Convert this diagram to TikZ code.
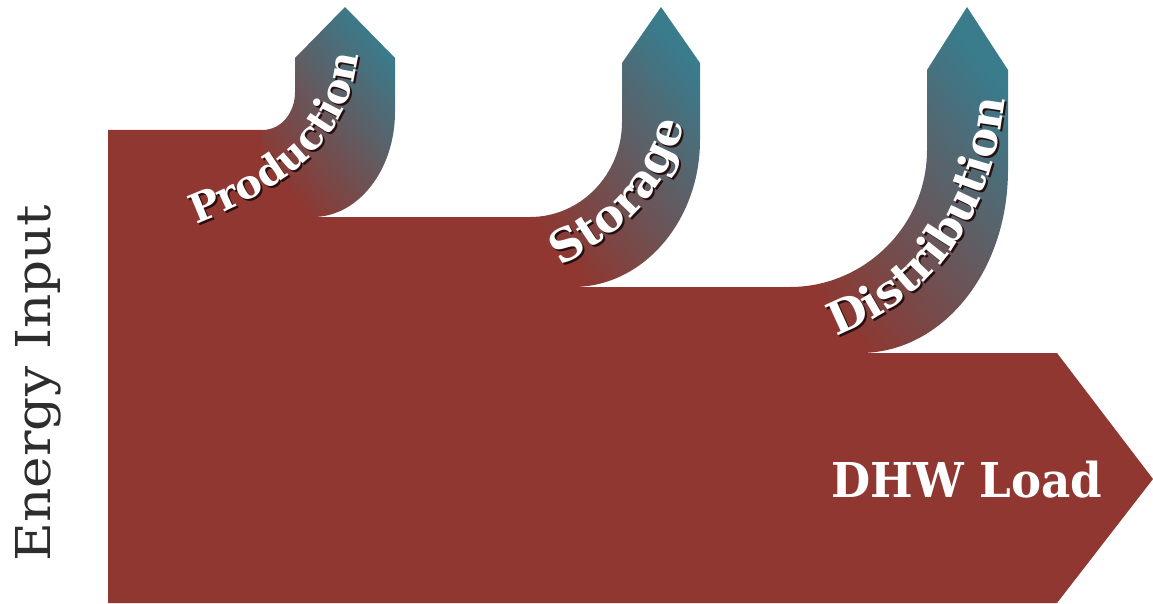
\documentclass[tikz,border=0pt]{standalone}
\usepackage{fontspec}
\setmainfont{DejaVu Serif}
\newfontfamily\inputFont[FakeStretch=1.11]{DejaVu Serif}
\newfontfamily\loadFont[FakeStretch=0.94]{DejaVu Serif}
\usetikzlibrary{decorations.text}

\definecolor{flowRed}{RGB}{143,55,48}
\definecolor{flowMid}{RGB}{104,86,96}
\definecolor{flowTeal}{RGB}{58,123,140}
\definecolor{flowShadow}{RGB}{40,15,15}
\definecolor{inputGray}{RGB}{45,45,45}

\begin{document}
\begin{tikzpicture}[x=1pt,y=-1pt,%%
  bodyStyle/.style={fill=flowRed},%%
  branchStyle/.style={top color=flowTeal,middle color=flowMid,bottom color=flowRed,shading angle=-50},%%
  curveText/.style 2 args={decorate,decoration={text along path,%%
    text={|\fontsize{#1}{#1}\selectfont\bfseries\color{white}|#2}}},%%
  curveShadow/.style 2 args={decorate,fill opacity=0.5,shift={(2,2)},%%
    decoration={text along path,%%
    text={|\fontsize{#1}{#1}\selectfont\bfseries\color{flowShadow}|#2}}},%%
  loadStyle/.style={font=\loadFont\fontsize{48}{48}\selectfont\bfseries,text=white,inner sep=0pt},%%
  inputStyle/.style={font=\inputFont\fontsize{48}{48}\selectfont,text=inputGray,inner sep=0pt}%%
]
%%
\useasboundingbox (0,0) rectangle (1153,604);
%%
%% The main flow, from the input to the load.
\fill[bodyStyle] (108,603) -- (108,130) -- (262,130) -- (262,217) -- (530,217)
  -- (530,287) -- (790,287) -- (790,353) -- (1057,353) -- (1153,479)
  -- (1057,603) -- cycle;
%%
%% The production loss.
\shade[branchStyle] (262,130) .. controls (282,130) and (295,112) .. (295,92)
  -- (295,58) -- (345,7) -- (395,58) -- (395,112)
  .. controls (395,170) and (358,217) .. (313,217) -- (262,217) -- cycle;
%%
%% The storage loss.
\shade[branchStyle] (530,217) .. controls (581,217) and (622,174) .. (622,122)
  -- (622,63) -- (661,7) -- (700,63) -- (700,140)
  .. controls (700,221) and (643,287) .. (573,287) -- (530,287) -- cycle;
%%
%% The distribution loss.
\shade[branchStyle] (790,287) .. controls (864,287) and (927,226) .. (927,150)
  -- (927,70) -- (967,7) -- (1008,70) -- (1008,170)
  .. controls (1008,272) and (942,353) .. (860,353) -- (790,353) -- cycle;
%%
%% Labels along the losses, with their shadows.
\path[curveShadow={40}{Production}] (196,224) .. controls (292,187) and (357,137) .. (360,36);
\path[curveText={40}{Production}] (196,224) .. controls (292,187) and (357,137) .. (360,36);
\path[curveShadow={45}{Storage}] (560,266) .. controls (629,229) and (684,184) .. (690,80);
\path[curveText={45}{Storage}] (560,266) .. controls (629,229) and (684,184) .. (690,80);
\path[curveShadow={45}{Distribution}] (836,336) .. controls (937,298) and (1005,213) .. (1008,46);
\path[curveText={45}{Distribution}] (836,336) .. controls (937,298) and (1005,213) .. (1008,46);
%%
%% Input and load.
\node[inputStyle,rotate=90,anchor=base] (energyInput) at (50,383) {Energy Input};
\node[loadStyle,anchor=base] (dhwLoad) at (967,497) {DHW Load};
\end{tikzpicture}
\end{document}
